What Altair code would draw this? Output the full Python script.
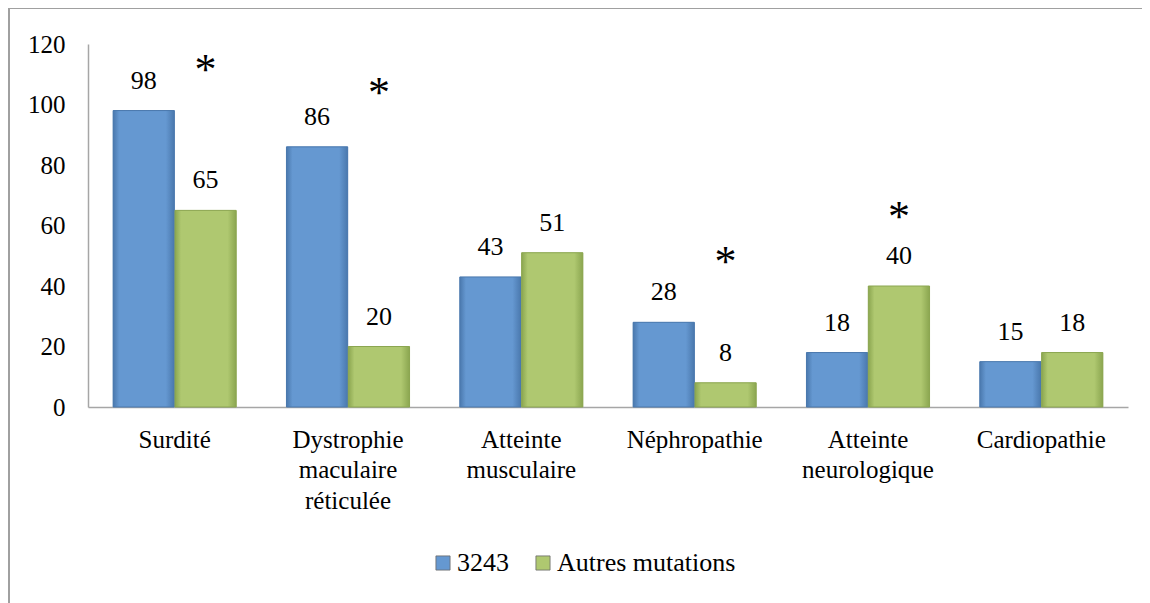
import altair as alt
import pandas as pd

categories = ["Surdité", "Dystrophie\nmaculaire\nréticulée", "Atteinte\nmusculaire",
              "Néphropathie", "Atteinte\nneurologique", "Cardiopathie"]
series = ["3243", "Autres mutations"]
values_3243 = [98, 86, 43, 28, 18, 15]
values_autres = [65, 20, 51, 8, 40, 18]
# significance markers (category, height in axis units)
star_cats = ["Surdité", "Dystrophie\nmaculaire\nréticulée", "Néphropathie", "Atteinte\nneurologique"]
star_heights = [113, 105.5, 49.6, 64.5]

base_colors = ["#6598d1", "#afc870"]
edge_colors = ["#4a78ad", "#8ba650"]

rows = []
for c, a, b in zip(categories, values_3243, values_autres):
    rows.append({"cat": c, "serie": series[0], "val": a})
    rows.append({"cat": c, "serie": series[1], "val": b})
df = pd.DataFrame(rows)
stars = pd.DataFrame({"cat": star_cats, "serie": [series[1]] * len(star_cats),
                      "h": star_heights, "t": ["*"] * len(star_cats)})

FONT = "Liberation Serif"
W, H = 1040, 363

xscale = alt.Scale(domain=categories, paddingInner=0.29, paddingOuter=0.145)
xenc = alt.X("cat:N", sort=categories, scale=xscale,
             axis=alt.Axis(title=None, labelAngle=0, labelFont=FONT, labelFontSize=25,
                           labelColor="black", labelPadding=20, labelLineHeight=30.5,
                           labelBaseline="top", labelLimit=300,
                           labelExpr="split(datum.label, '\\n')",
                           ticks=False, domainColor="#a6a6a6", domainWidth=1.5))
xplain = alt.X("cat:N", sort=categories, scale=xscale)
xoff = alt.XOffset("serie:N", sort=series, scale=alt.Scale(domain=series, paddingInner=0.01))
yenc = alt.Y("val:Q", scale=alt.Scale(domain=[0, 120]),
             axis=alt.Axis(title=None, values=[0, 20, 40, 60, 80, 100, 120], grid=False,
                           ticks=False, labelFont=FONT, labelFontSize=25, labelColor="black",
                           labelPadding=23, domainColor="#a6a6a6", domainWidth=1.5))
color = alt.Color("serie:N", sort=series,
                  scale=alt.Scale(domain=series, range=base_colors),
                  legend=alt.Legend(title=None, orient="none", legendX=342, legendY=506,
                                    direction="horizontal", symbolType="square",
                                    symbolSize=200, symbolStrokeWidth=0.8,
                                    symbolStrokeColor="#6a6a6a",
                                    labelFont=FONT, labelFontSize=26, labelColor="black",
                                    labelLimit=400, columnPadding=21, labelOffset=1))

bars = alt.Chart(df).mark_bar().encode(x=xenc, xOffset=xoff, y=yenc, color=color)

grad_layers = []
for s, bc, ec in zip(series, base_colors, edge_colors):
    grad = alt.Gradient(gradient="linear", x1=0, x2=1, y1=0, y2=0, stops=[
        alt.GradientStop(color=ec, offset=0),
        alt.GradientStop(color=bc, offset=0.1),
        alt.GradientStop(color=bc, offset=0.86),
        alt.GradientStop(color=ec, offset=1)])
    grad_layers.append(
        alt.Chart(df).transform_filter(alt.datum.serie == s)
        .mark_bar(color=grad, stroke=ec, strokeWidth=1)
        .encode(x=xplain, xOffset=xoff, y=alt.Y("val:Q"))
    )

labels = alt.Chart(df).mark_text(font=FONT, fontSize=26, color="black",
                                 baseline="middle", dy=-30).encode(
    x=xplain, xOffset=xoff, y="val:Q", text="val:Q")

star_marks = alt.Chart(stars).mark_text(font=FONT, fontSize=44, color="black",
                                        baseline="alphabetic", dy=19).encode(
    x=xplain, xOffset=xoff, y="h:Q", text="t:N")

frame_top = alt.Chart(df).mark_rule(color="#a0a0a0", strokeWidth=1.5).encode(
    x=alt.value(-79), x2=alt.value(W + 14), y=alt.value(-36))
frame_left = alt.Chart(df).mark_rule(color="#a0a0a0", strokeWidth=1.5).encode(
    x=alt.value(-79), y=alt.value(-36), y2=alt.value(H + 240))

chart = alt.layer(frame_top, frame_left, bars, *grad_layers, labels, star_marks).properties(
    width=W, height=H,
    autosize=alt.AutoSizeParams(type="none"),
    padding={"left": 80, "top": 36, "right": 14, "bottom": 196},
).configure_view(stroke=None)

chart.save("out.html", embed_options={"renderer": "svg", "actions": False})
